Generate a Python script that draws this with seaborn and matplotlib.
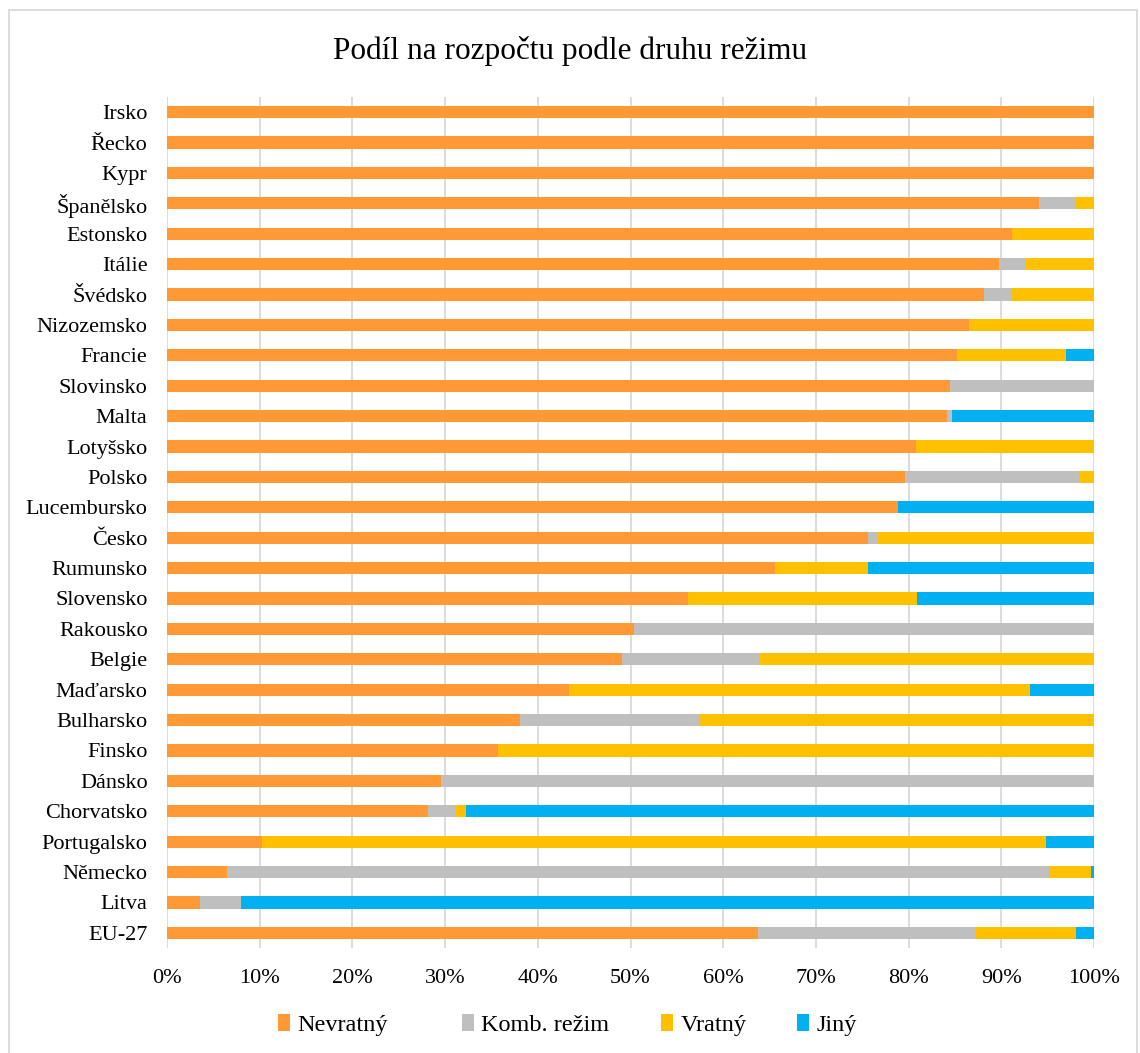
import matplotlib
matplotlib.use("Agg")
import matplotlib.pyplot as plt
import seaborn as sns
import pandas as pd
import numpy as np
from matplotlib.patches import Rectangle, Patch

countries = ["Irsko", "Řecko", "Kypr", "Španělsko", "Estonsko", "Itálie", "Švédsko",
             "Nizozemsko", "Francie", "Slovinsko", "Malta", "Lotyšsko", "Polsko",
             "Lucembursko", "Česko", "Rumunsko", "Slovensko", "Rakousko", "Belgie",
             "Maďarsko", "Bulharsko", "Finsko", "Dánsko", "Chorvatsko", "Portugalsko",
             "Německo", "Litva", "EU-27"]
nevratny = [100, 100, 100, 94.1, 91.2, 89.7, 88.1, 86.5, 85.2, 84.5, 84.1, 80.8, 79.6, 78.8,
            75.6, 65.6, 56.2, 50.4, 49.1, 43.4, 38.1, 35.7, 29.6, 28.1, 10.2, 6.5, 3.6, 63.8]
komb = [0, 0, 0, 3.9, 0, 2.9, 3.1, 0, 0, 15.5, 0.6, 0, 18.8, 0, 1.1, 0, 0, 49.6, 14.8, 0,
        19.4, 0, 70.4, 3.1, 0, 88.6, 4.4, 23.5]
vratny = [0, 0, 0, 2.0, 8.8, 7.4, 8.8, 13.5, 11.8, 0, 0, 19.2, 1.6, 0, 23.3, 10.0, 24.7, 0,
          36.1, 49.7, 42.5, 64.3, 0, 1.1, 84.6, 4.6, 0, 10.8]
jiny = [0, 0, 0, 0, 0, 0, 0, 0, 3.0, 0, 15.3, 0, 0, 21.2, 0, 24.4, 19.1, 0, 0, 6.9, 0, 0, 0,
        67.7, 5.2, 0.3, 92.0, 1.9]

series_names = ["Nevratný", "Komb. režim", "Vratný", "Jiný"]
colors = ["#FF9933", "#BFBFBF", "#FFC000", "#00B0F0"]
title = "Podíl na rozpočtu podle druhu režimu"

sns.set_theme(style="white")
plt.rcParams["font.family"] = ["Liberation Serif", "DejaVu Serif"]
plt.rcParams["text.color"] = "black"
plt.rcParams["xtick.color"] = "black"
plt.rcParams["ytick.color"] = "black"

df = pd.DataFrame({"country": countries, "Nevratný": nevratny, "Komb. režim": komb,
                   "Vratný": vratny, "Jiný": jiny})
cum = df[series_names].cumsum(axis=1)

fig = plt.figure(figsize=(11.4, 10.53), dpi=100)
ax = fig.add_axes([0.1465, 0.0997, 0.8132, 0.8082])

for name, col in reversed(list(zip(series_names, colors))):
    sns.barplot(x=cum[name], y=df["country"], orient="h", color=col, width=0.4,
                saturation=1, ax=ax, linewidth=0)

ax.set_xlim(0, 100)
ax.set_xticks(np.arange(0, 101, 10))
ax.set_xticklabels([f"{v}%" for v in range(0, 101, 10)], fontsize=16)
ax.tick_params(axis="y", labelsize=16, length=0, pad=14)
ax.tick_params(axis="x", length=0, pad=15)
ax.set_xlabel("")
ax.set_ylabel("")
ax.xaxis.grid(True, color="#D9D9D9", linewidth=1.3)
ax.set_axisbelow(True)
for s in ax.spines.values():
    s.set_visible(False)

fig.text(0.5, 0.952, title, ha="center", va="center", fontsize=22.5, color="black")

# legend entries placed like the reference (one entry each)
legend_x = [278, 462, 661, 797]
for name, col, px in zip(series_names, colors, legend_x):
    leg = fig.legend([Patch(facecolor=col, edgecolor="none")], [name], loc="center left",
                     bbox_to_anchor=(px / 1140, 0.027), frameon=False, fontsize=17.5,
                     handlelength=0.5, handleheight=0.7, handletextpad=0.3,
                     borderpad=0, borderaxespad=0, labelcolor="black")

fig.patches.append(Rectangle((9 / 1140, -0.05), 1128 / 1140, 1 - 10 / 1053 + 0.05,
                             transform=fig.transFigure, fill=False,
                             edgecolor="#D9D9D9", linewidth=1.3))

fig.savefig("out.png", dpi=100)
